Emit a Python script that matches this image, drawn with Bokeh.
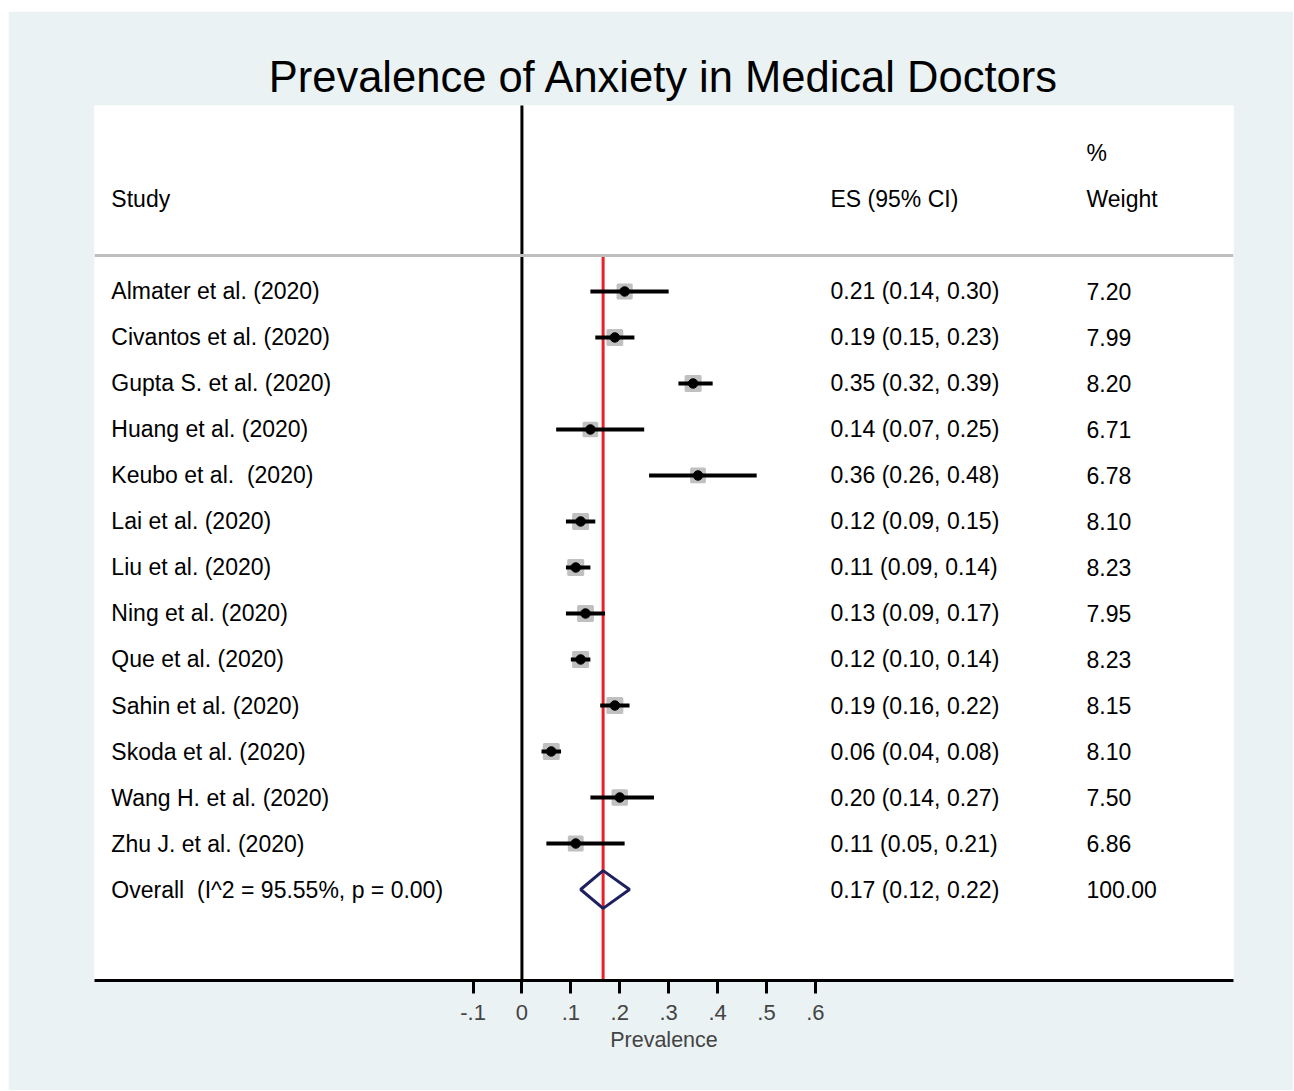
from bokeh.plotting import figure
from bokeh.layouts import column, row
from bokeh.models import Range1d, FixedTicker, CustomJSTickFormatter, Span, ColumnDataSource, Spacer
from bokeh.core.properties import value
from bokeh.embed import file_html
from bokeh.resources import INLINE

studies = ["Almater et al. (2020)", "Civantos et al. (2020)", "Gupta S. et al. (2020)",
           "Huang et al. (2020)", "Keubo et al.\u00a0 (2020)", "Lai et al. (2020)",
           "Liu et al. (2020)", "Ning et al. (2020)", "Que et al. (2020)",
           "Sahin et al. (2020)", "Skoda et al. (2020)", "Wang H. et al. (2020)",
           "Zhu J. et al. (2020)"]
es = [0.21, 0.19, 0.35, 0.14, 0.36, 0.12, 0.11, 0.13, 0.12, 0.19, 0.06, 0.20, 0.11]
lo = [0.14, 0.15, 0.32, 0.07, 0.26, 0.09, 0.09, 0.09, 0.10, 0.16, 0.04, 0.14, 0.05]
hi = [0.30, 0.23, 0.39, 0.25, 0.48, 0.15, 0.14, 0.17, 0.14, 0.22, 0.08, 0.27, 0.21]
weights = [7.20, 7.99, 8.20, 6.71, 6.78, 8.10, 8.23, 7.95, 8.23, 8.15, 8.10, 7.50, 6.86]

overall_label = "Overall\u00a0 (I^2 = 95.55%, p = 0.00)"
overall_es = 0.166
overall_lo = 0.12
overall_hi = 0.22
overall_weight = 100.00

tick_values = [-0.1, 0, 0.1, 0.2, 0.3, 0.4, 0.5, 0.6]

FONT = value("Liberation Sans")
BG = "#EAF2F3"

n = len(studies)
rows = list(range(n))
overall_row = n

p = figure(width=1285, height=1079, output_backend="svg", toolbar_location=None,
           x_range=Range1d(-0.874, 1.455), y_range=Range1d(14.978, -4.043),
           y_axis_location=None, min_border_left=86, min_border_right=60,
           min_border_top=94, min_border_bottom=110,
           title="Prevalence of Anxiety in Medical Doctors")
p.background_fill_color = "white"
p.border_fill_color = BG
p.outline_line_color = None
p.grid.visible = False

p.title.align = "center"
p.title.text_font = "Liberation Sans"
p.title.text_font_size = "43.5px"
p.title.text_font_style = "normal"
p.title.text_color = "black"
p.title.standoff = 10

ax = p.xaxis[0]
ax.ticker = FixedTicker(ticks=tick_values)
ax.formatter = CustomJSTickFormatter(code="""
if (Math.abs(tick) < 1e-9) return '0';
var s = tick.toFixed(1);
return s.replace(/^(-?)0\\./, '$1.');
""")
ax.axis_label = "Prevalence"
ax.axis_label_text_font = "Liberation Sans"
ax.axis_label_text_font_size = "21.5px"
ax.axis_label_text_font_style = "normal"
ax.axis_label_standoff = 5
ax.major_label_text_font = "Liberation Sans"
ax.major_label_text_font_size = "22px"
ax.major_label_standoff = 11
ax.axis_line_width = 3
ax.axis_line_color = "black"
ax.major_tick_line_width = 3
ax.major_tick_out = 13
ax.major_tick_in = 0
ax.minor_tick_line_color = None

# header separator
p.add_layout(Span(location=-0.78, dimension="width", line_color="#BEBEBE", line_width=3))

# zero line and overall line
p.segment(x0=[0], y0=[-5], x1=[0], y1=[16], line_color="black", line_width=3)
p.segment(x0=[overall_es], y0=[-0.78], x1=[overall_es], y1=[16], line_color="#E8202A", line_width=3)

src = ColumnDataSource(dict(
    row=rows, es=es, lo=lo, hi=hi, w=weights, study=studies,
    size=[4.9 * (w ** 0.5) for w in weights],
    ci=["%.2f (%.2f, %.2f)" % (a, b, c) for a, b, c in zip(es, lo, hi)],
    wt=["%.2f" % w for w in weights],
))

p.scatter(x="es", y="row", size="size", marker="square", source=src,
          fill_color="#C0C0C0", line_color="#C0C0C0", line_width=3, line_join="round")
p.segment(x0="lo", y0="row", x1="hi", y1="row", source=src, line_color="black", line_width=4)
p.scatter(x="es", y="row", size=9.5, marker="circle", source=src, fill_color="black", line_color="black")

# diamond
p.patch(x=[overall_lo, overall_es, overall_hi, overall_es, overall_lo],
        y=[overall_row, overall_row - 0.41, overall_row, overall_row + 0.41, overall_row],
        fill_color=None, line_color="#1F2060", line_width=3)

x_study = -0.8395
x_ci = 0.631
x_wt = 1.1545
TS = "23px"

p.text(x=x_study, y="row", text="study", source=src, text_font=FONT, text_font_size=TS,
       text_baseline="middle", text_color="black")
p.text(x=x_ci, y="row", text="ci", source=src, text_font=FONT, text_font_size=TS,
       text_baseline="middle", text_color="black")
p.text(x=x_wt, y="row", text="wt", source=src, text_font=FONT, text_font_size=TS,
       text_baseline="middle", text_color="black")

p.text(x=[x_study, x_ci, x_wt],
       y=[overall_row] * 3,
       text=[overall_label, "%.2f (%.2f, %.2f)" % (overall_es, overall_lo, overall_hi), "%.2f" % overall_weight],
       text_font=FONT, text_font_size=TS, text_baseline="middle", text_color="black")

p.text(x=[x_study, x_ci, x_wt, x_wt], y=[-2, -2, -2, -3],
       text=["Study", "ES (95% CI)", "Weight", "%"],
       text_font=FONT, text_font_size=TS, text_baseline="middle", text_color="black")

layout = column(Spacer(height=11), row(Spacer(width=8), p))

open("out.html", "w").write(file_html(layout, INLINE))
